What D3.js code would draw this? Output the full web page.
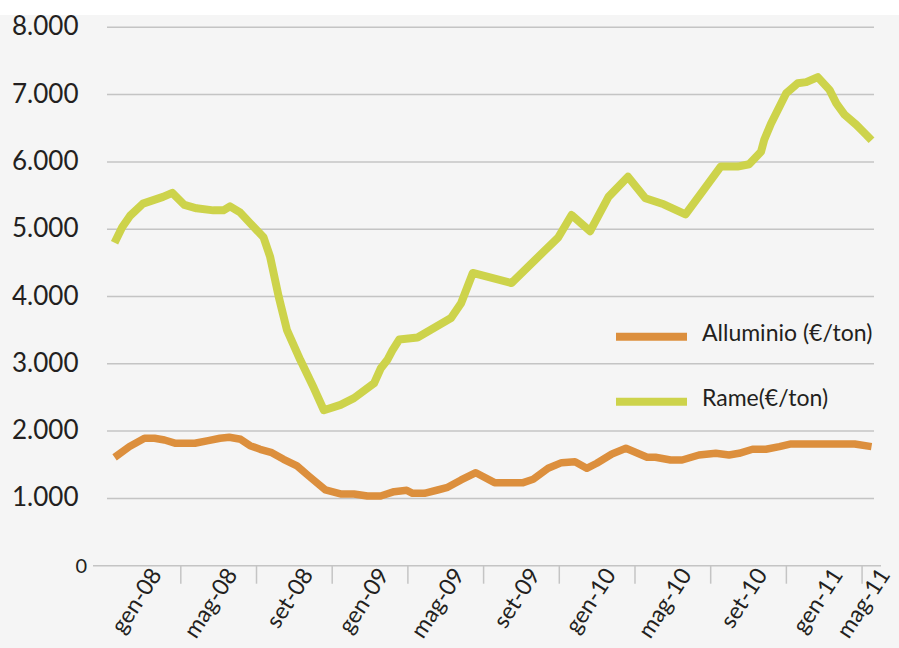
<!DOCTYPE html>
<html>
<head>
<meta charset="utf-8">
<script src="https://cdn.jsdelivr.net/npm/d3@7"></script>
<style>
  html, body { margin: 0; padding: 0; background: #ffffff; }
  svg { display: block; }
  text { font-family: Lato, "Open Sans", sans-serif; fill: #231f20; font-weight: 400; }
</style>
</head>
<body>
<svg id="chart" width="899" height="648"></svg>
<script>
// ---- DATA ----
// x positions are month offsets from gen-08 (0 = gen-08, 40 = mag-11)
const tickLabels = ["gen-08","mag-08","set-08","gen-09","mag-09","set-09","gen-10","mag-10","set-10","gen-11","mag-11"];
const tickMonths = [0,4,8,12,16,20,24,28,32,36,40];
const yTicks = [0,1000,2000,3000,4000,5000,6000,7000,8000];
const seriesNames = ["Alluminio (€/ton)", "Rame(€/ton)"];

const rameMonths = [0,0.40,0.82,1.50,2.56,3.05,3.69,4.33,5.22,5.75,6.10,6.63,7.16,7.87,8.22,8.67,9.11,9.81,10.53,11.06,11.94,12.65,13.71,14.06,14.42,14.68,15.04,16.01,17.78,18.31,18.93,20.97,23.45,24.15,25.13,26.10,27.13,28.05,29.02,30.17,31.06,32.03,32.92,33.53,34.16,34.33,34.69,35.49,36.10,36.55,37.16,37.78,38.14,38.58,39.20,39.73,40];
const rameValues = [4800,5030,5200,5380,5480,5540,5360,5310,5280,5280,5340,5250,5090,4880,4590,4000,3500,3060,2640,2310,2390,2490,2710,2930,3060,3200,3360,3390,3680,3900,4350,4200,4880,5210,4970,5480,5780,5460,5370,5220,5560,5930,5930,5965,6150,6330,6570,7020,7170,7185,7260,7070,6870,6700,6550,6400,6320];

const alluMonths = [0,0.79,1.58,2.11,2.64,3.23,4.24,4.95,5.57,6.06,6.66,7.16,7.69,8.31,8.93,9.64,10.26,11.14,11.94,12.65,13.36,14.06,14.77,15.44,15.75,16.37,17.07,17.60,18.31,19.09,20.08,21.59,22.12,22.91,23.62,24.33,24.95,25.48,26.28,27.02,28.14,28.58,29.38,29.99,30.88,31.77,32.47,33.00,33.71,34.42,35.13,35.75,39.11,40];
const alluValues = [1610,1770,1893,1893,1868,1819,1819,1858,1893,1908,1878,1783,1730,1680,1581,1482,1333,1125,1066,1066,1036,1036,1100,1120,1076,1076,1125,1165,1274,1382,1234,1234,1284,1447,1531,1546,1447,1522,1660,1744,1611,1611,1571,1571,1645,1670,1645,1670,1730,1730,1769,1809,1809,1769];

// ---- CHART ----
const svg = d3.select("#chart");
const W = 899, H = 648;
const colors = { allu: "#dc8f3d", rame: "#cdd34b" };

svg.append("rect").attr("x",0).attr("y",0).attr("width",W).attr("height",H).attr("fill","#ffffff");
svg.append("rect").attr("x",0).attr("y",15).attr("width",W).attr("height",H-15).attr("fill","#f5f5f5");

const x = d3.scaleLinear().domain([-1.14, 40.5]).range([93, 881]);
const y = d3.scaleLinear().domain([0, 8000]).range([565.7, 27.3]);

// gridlines
svg.append("g").selectAll("line").data(yTicks.filter(d => d > 0)).join("line")
  .attr("x1", 107).attr("x2", 874)
  .attr("y1", d => y(d)).attr("y2", d => y(d))
  .attr("stroke", "#c4c4c4").attr("stroke-width", 1.5);

// y labels
svg.append("g").selectAll("text").data(yTicks.filter(d => d > 0)).join("text")
  .attr("x", 12).attr("y", d => y(d) - 2)
  .attr("dominant-baseline", "central")
  .attr("font-size", 26)
  .text(d => d3.format(",")(d).replace(/,/g, "."));
svg.append("text").attr("x", 87).attr("y", y(0) - 1)
  .attr("text-anchor", "end").attr("dominant-baseline", "central")
  .attr("font-size", 20).text("0");

// x axis line
svg.append("line").attr("x1", 93).attr("x2", 881)
  .attr("y1", y(0)).attr("y2", y(0))
  .attr("stroke", "#c4c4c4").attr("stroke-width", 1.5);

// tick marks (between categories)
svg.append("g").selectAll("line").data(tickMonths.slice(1)).join("line")
  .attr("x1", d => x(d - 0.5)).attr("x2", d => x(d - 0.5))
  .attr("y1", y(0)).attr("y2", y(0) + 18)
  .attr("stroke", "#c4c4c4").attr("stroke-width", 1.5);

// x labels (last one pulled in to fit, as in the original)
svg.append("g").selectAll("text").data(tickMonths).join("text")
  .attr("transform", d => `translate(${Math.min(x(d) + 48, 891)},${y(0) + 9}) rotate(-57)`)
  .attr("text-anchor", "end")
  .attr("font-size", 23)
  .text((d, i) => tickLabels[i]);

// lines
const line = d3.line().x(d => x(d[0])).y(d => y(d[1]));
const rameData = rameMonths.map((m, i) => [m, rameValues[i]]);
const alluData = alluMonths.map((m, i) => [m, alluValues[i]]);

svg.append("path").datum(rameData).attr("d", line)
  .attr("fill", "none").attr("stroke", colors.rame).attr("stroke-width", 8)
  .attr("stroke-linejoin", "round");
svg.append("path").datum(alluData).attr("d", line)
  .attr("fill", "none").attr("stroke", colors.allu).attr("stroke-width", 7.5)
  .attr("stroke-linejoin", "round");

// legend
const legend = [
  { name: seriesNames[0], color: colors.allu, y: 336.7 },
  { name: seriesNames[1], color: colors.rame, y: 401.7 }
];
const lg = svg.append("g").selectAll("g").data(legend).join("g");
lg.append("line").attr("x1", 616).attr("x2", 687)
  .attr("y1", d => d.y).attr("y2", d => d.y)
  .attr("stroke", d => d.color).attr("stroke-width", 8);
lg.append("text").attr("x", 702).attr("y", d => d.y - 5)
  .attr("dominant-baseline", "central")
  .attr("font-size", 23)
  .text(d => d.name);
</script>
</body>
</html>
